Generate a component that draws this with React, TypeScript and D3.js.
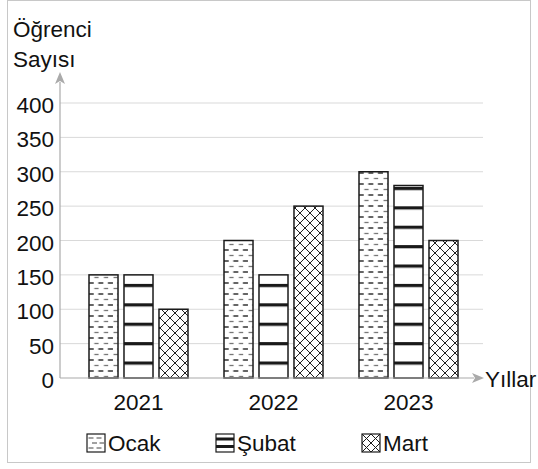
import { useEffect, useRef } from "react";
import * as d3 from "d3";

const years = ["2021", "2022", "2023"];
const seriesNames = ["Ocak", "Şubat", "Mart"];
const ocak = [150, 200, 300];
const subat = [150, 150, 280];
const mart = [100, 250, 200];
const yTicks = [0, 50, 100, 150, 200, 250, 300, 350, 400];

const FONT = "'Liberation Sans', Arial, sans-serif";
const FS = 22.5;

export default function App() {
  const svgRef = useRef<SVGSVGElement>(null);

  useEffect(() => {
    if (!svgRef.current) return;
    const svg = d3.select(svgRef.current);
    svg.selectAll("*").remove();

    const defs = svg.append("defs");

    // Ocak: staggered short dashes
    const pO = defs
      .append("pattern")
      .attr("id", "pOcak")
      .attr("patternUnits", "userSpaceOnUse")
      .attr("width", 9.6)
      .attr("height", 11)
      .attr("x", 89)
      .attr("y", 0);
    pO.append("rect").attr("width", 9.6).attr("height", 11).attr("fill", "#fff");
    pO.append("line")
      .attr("x1", 1.5).attr("x2", 5.8).attr("y1", 2.5).attr("y2", 2.5)
      .attr("stroke", "#777").attr("stroke-width", 1.3);
    pO.append("line")
      .attr("x1", 5.5).attr("x2", 9.6).attr("y1", 8).attr("y2", 8)
      .attr("stroke", "#111").attr("stroke-width", 1.3);
    pO.append("line")
      .attr("x1", 0).attr("x2", 0.8).attr("y1", 8).attr("y2", 8)
      .attr("stroke", "#111").attr("stroke-width", 1.3);

    // Şubat: thick horizontal bands
    const pS = defs
      .append("pattern")
      .attr("id", "pSubat")
      .attr("patternUnits", "userSpaceOnUse")
      .attr("width", 10)
      .attr("height", 19.4)
      .attr("x", 0)
      .attr("y", 361.5);
    pS.append("rect").attr("width", 10).attr("height", 19.4).attr("fill", "#fff");
    pS.append("rect").attr("width", 10).attr("height", 3.2).attr("fill", "#1a1a1a");

    // Mart: diagonal crosshatch
    const pM = defs
      .append("pattern")
      .attr("id", "pMart")
      .attr("patternUnits", "userSpaceOnUse")
      .attr("width", 10)
      .attr("height", 10)
      .attr("x", 159)
      .attr("y", 378);
    pM.append("rect").attr("width", 10).attr("height", 10).attr("fill", "#fff");
    pM.append("path")
      .attr("d", "M0,0L10,10M10,0L0,10M-1,9L1,11M9,-1L11,1M-1,1L1,-1M9,11L11,9")
      .attr("stroke", "#222")
      .attr("stroke-width", 1);

    const fills = ["url(#pOcak)", "url(#pSubat)", "url(#pMart)"];
    const values = [ocak, subat, mart];

    // frame
    svg.append("rect")
      .attr("x", 7.5).attr("y", 0.5).attr("width", 523).attr("height", 462)
      .attr("fill", "none").attr("stroke", "#c8c8c8");

    const x0 = d3.scaleBand<string>().domain(years).range([71, 476]).padding(0);
    const x1 = d3
      .scaleBand<string>()
      .domain(seriesNames)
      .range([18, 117])
      .paddingInner(0.171)
      .paddingOuter(0);
    const y = d3.scaleLinear().domain([0, 400]).range([378, 103]);

    // gridlines
    svg.append("g")
      .selectAll("line")
      .data(yTicks.filter((t) => t > 0))
      .enter()
      .append("line")
      .attr("x1", 60).attr("x2", 483)
      .attr("y1", (d) => y(d)).attr("y2", (d) => y(d))
      .attr("stroke", "#d9d9d9").attr("stroke-width", 1);

    // y tick labels
    svg.append("g")
      .selectAll("text")
      .data(yTicks)
      .enter()
      .append("text")
      .attr("x", 54)
      .attr("y", (d) => y(d) + 10)
      .attr("text-anchor", "end")
      .attr("font-family", FONT)
      .attr("font-size", FS)
      .attr("fill", "#111")
      .text((d) => d);

    // bars
    const groups = svg
      .append("g")
      .selectAll("g")
      .data(years)
      .enter()
      .append("g")
      .attr("transform", (d) => `translate(${x0(d)},0)`);

    groups
      .selectAll("rect")
      .data((d, i) => seriesNames.map((s, j) => ({ s, j, v: values[j][i] })))
      .enter()
      .append("rect")
      .attr("x", (d) => x1(d.s)!)
      .attr("y", (d) => y(d.v))
      .attr("width", x1.bandwidth())
      .attr("height", (d) => y(0) - y(d.v))
      .attr("fill", (d) => fills[d.j])
      .attr("stroke", "#1a1a1a")
      .attr("stroke-width", 1.5);

    // axes
    svg.append("line")
      .attr("x1", 60).attr("x2", 60).attr("y1", 378).attr("y2", 82)
      .attr("stroke", "#aaa").attr("stroke-width", 1.2);
    svg.append("path")
      .attr("d", "M60,72L55,84L60,81L65,84Z")
      .attr("fill", "#aaa");
    svg.append("line")
      .attr("x1", 60).attr("x2", 474).attr("y1", 378).attr("y2", 378)
      .attr("stroke", "#aaa").attr("stroke-width", 1.2);
    svg.append("path")
      .attr("d", "M484,378L472,373L475,378L472,383Z")
      .attr("fill", "#aaa");

    // x labels
    svg.append("g")
      .selectAll("text")
      .data(years)
      .enter()
      .append("text")
      .attr("x", (d) => x0(d)! + x0.bandwidth() / 2)
      .attr("y", 410)
      .attr("text-anchor", "middle")
      .attr("font-family", FONT)
      .attr("font-size", FS)
      .attr("fill", "#111")
      .text((d) => d);

    svg.append("text")
      .attr("x", 485).attr("y", 387)
      .attr("font-family", FONT).attr("font-size", FS).attr("fill", "#111")
      .text("Yıllar");

    const yTitle = svg.append("text")
      .attr("font-family", FONT).attr("font-size", FS).attr("fill", "#111");
    yTitle.append("tspan").attr("x", 13).attr("y", 37).text("Öğrenci");
    yTitle.append("tspan").attr("x", 13).attr("y", 67).text("Sayısı");

    // legend
    const legendX = [87, 216, 362];
    const legend = svg
      .append("g")
      .selectAll("g")
      .data(seriesNames)
      .enter()
      .append("g")
      .attr("transform", (d, i) => `translate(${legendX[i]},434)`);
    legend.append("rect")
      .attr("width", 18).attr("height", 18)
      .attr("fill", "#fff").attr("stroke", "#1a1a1a").attr("stroke-width", 1.2);
    legend.each(function (d, i) {
      const g = d3.select(this);
      if (i === 0) {
        [4, 9, 14].forEach((yy, k) => {
          g.append("line")
            .attr("x1", k % 2 ? 5 : 1.5).attr("x2", k % 2 ? 10 : 6.5)
            .attr("y1", yy).attr("y2", yy).attr("stroke", "#444").attr("stroke-width", 1);
          g.append("line")
            .attr("x1", k % 2 ? 12.5 : 9.5).attr("x2", k % 2 ? 17 : 14.5)
            .attr("y1", yy).attr("y2", yy).attr("stroke", "#444").attr("stroke-width", 1);
        });
      } else if (i === 1) {
        [5, 12.5].forEach((yy) => {
          g.append("rect").attr("x", 0).attr("y", yy - 1.5).attr("width", 18).attr("height", 3)
            .attr("fill", "#1a1a1a");
        });
      } else {
        g.append("path")
          .attr("d", "M0,0L18,18M18,0L0,18M0,9L9,0L18,9L9,18Z")
          .attr("fill", "none").attr("stroke", "#1a1a1a").attr("stroke-width", 1);
      }
    });
    legend.append("text")
      .attr("x", 21).attr("y", 17)
      .attr("font-family", FONT).attr("font-size", FS).attr("fill", "#111")
      .text((d) => d);
  }, []);

  return (
    <svg
      ref={svgRef}
      width={538}
      height={469}
      style={{ position: "absolute", left: 0, top: 0, background: "#fff" }}
    />
  );
}
